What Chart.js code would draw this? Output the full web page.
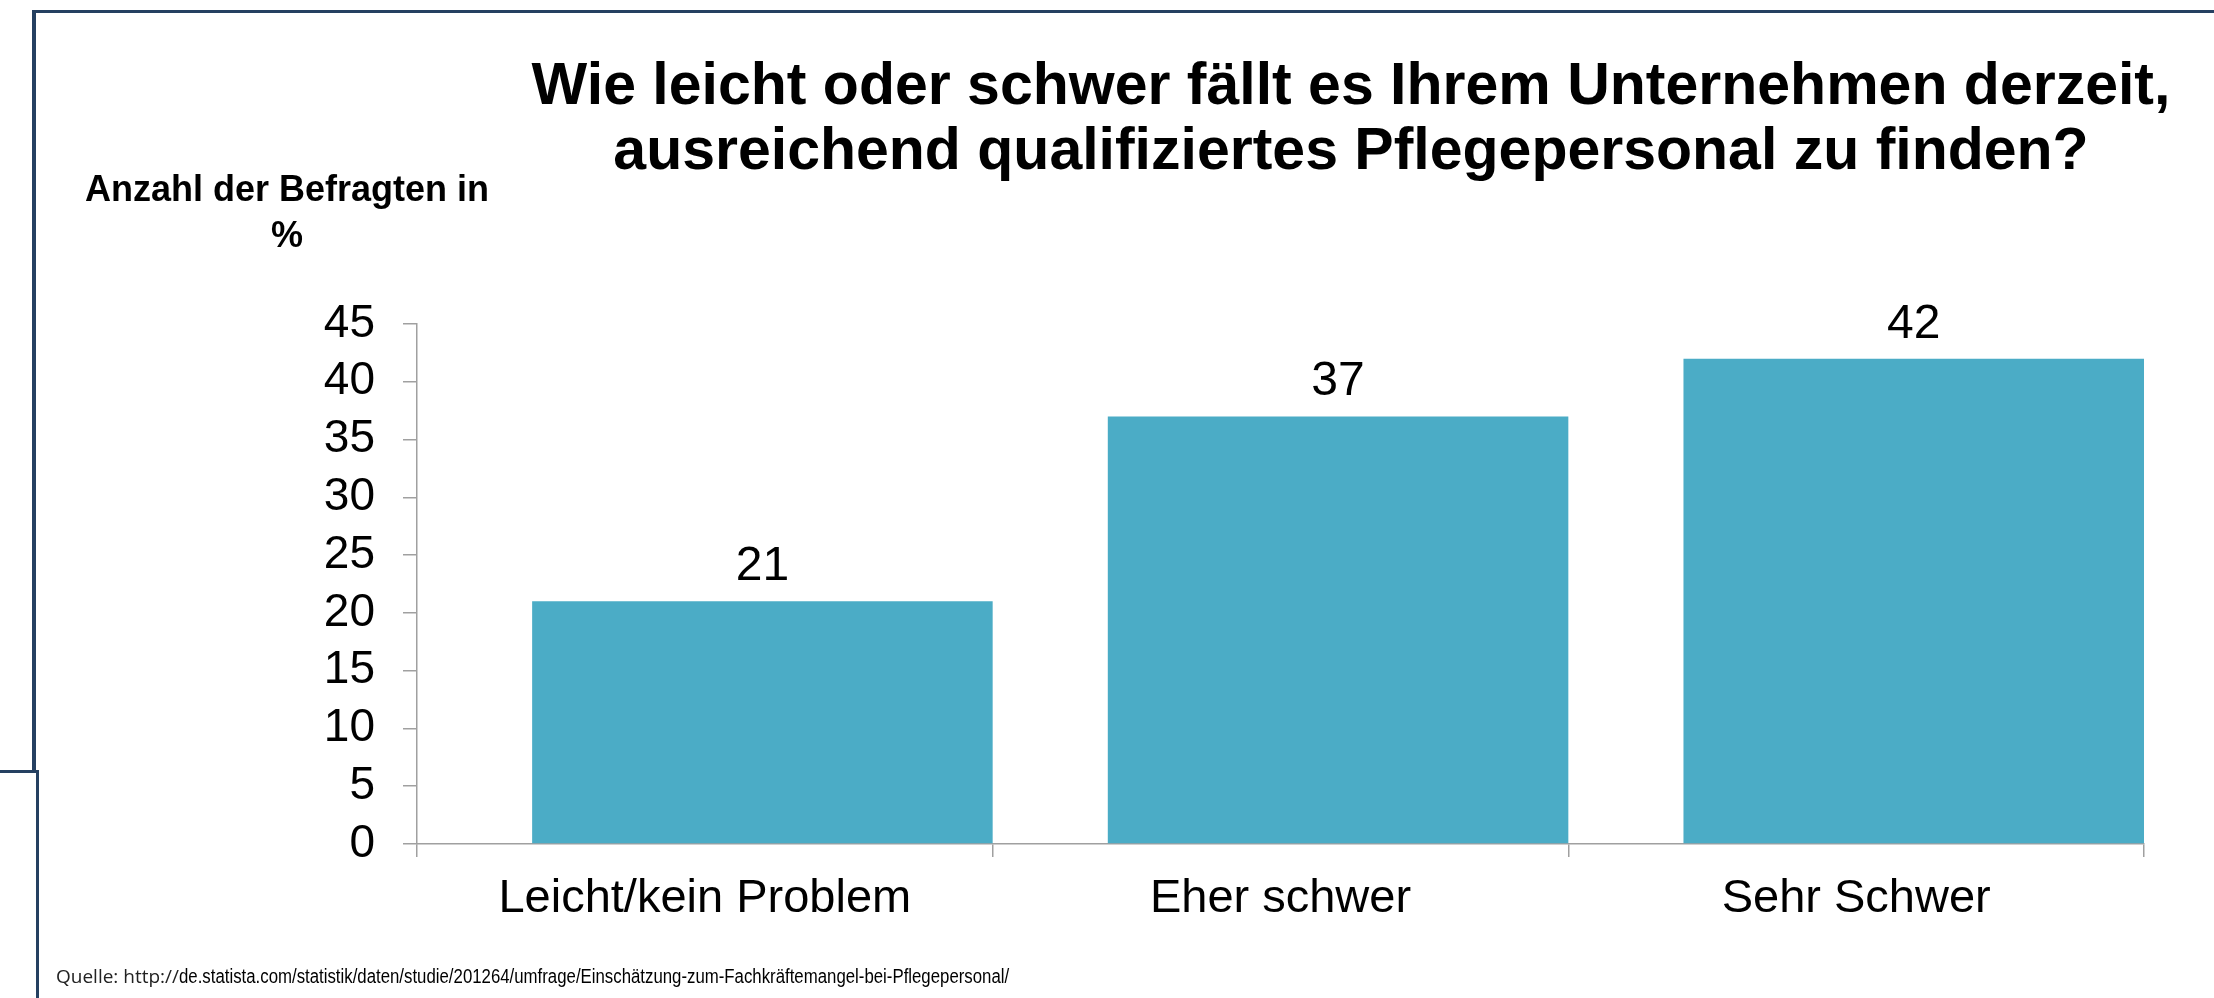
<!DOCTYPE html>
<html>
<head>
<meta charset="utf-8">
<script src="https://cdn.jsdelivr.net/npm/chart.js@4.4.0/dist/chart.umd.min.js"></script>
<style>
  html, body { margin: 0; padding: 0; background: #ffffff; }
  #wrap { position: relative; width: 2214px; height: 998px; overflow: hidden; background: #ffffff; }
  #chart { position: absolute; left: 0; top: 0; }
  .ln { position: absolute; background: #254061; }
  #title { position: absolute; left: 1351px; top: 52px; transform: translateX(-50%); white-space: nowrap;
           text-align: center; font: bold 59px/65px "Liberation Sans", Arial, sans-serif; color: #000; }
  #ycap { position: absolute; left: 287px; top: 166px; transform: translateX(-50%); white-space: nowrap;
          text-align: center; font: bold 36px/45.5px "Liberation Sans", Arial, sans-serif; color: #000; }
  #src { position: absolute; left: 56px; top: 963px; white-space: nowrap;
         font: 20px/24px "Liberation Sans", Arial, sans-serif; color: #000; }
  #src .q { font: 19px "Open Sans", "Noto Sans", sans-serif; color: #222; }
  #src .u { display: inline-block; transform: scaleX(0.84); transform-origin: 0 50%; }
</style>
</head>
<body>
<div id="wrap">
  <canvas id="chart" width="2214" height="998"></canvas>
  <div class="ln" style="left:32px;top:10px;width:2182px;height:3px;"></div>
  <div class="ln" style="left:32px;top:10px;width:4px;height:763px;"></div>
  <div class="ln" style="left:0px;top:770px;width:39px;height:3px;"></div>
  <div class="ln" style="left:36px;top:770px;width:3px;height:228px;"></div>
  <div id="title">Wie leicht oder schwer fällt es Ihrem Unternehmen derzeit,<br>ausreichend qualifiziertes Pflegepersonal zu finden?</div>
  <div id="ycap">Anzahl der Befragten in<br>%</div>
  <div id="src"><span class="q">Quelle: http://</span><span class="u">de.statista.com/statistik/daten/studie/201264/umfrage/Einschätzung-zum-Fachkräftemangel-bei-Pflegepersonal/</span></div>
</div>
<script>
// ---- data ----
const categories = ['Leicht/kein Problem', 'Eher schwer', 'Sehr Schwer'];
const values = [21, 37, 42];
const yTickValues = [0, 5, 10, 15, 20, 25, 30, 35, 40, 45];

// ---- styles ----
const FONT = '"Liberation Sans", Arial, sans-serif';
const BAR_COLOR = '#4BACC6';
const AXIS_COLOR = '#a0a0a0';
const BAR_SHIFT = 0.1; // bars sit in the right part of each category

Chart.defaults.font.family = FONT;

const shiftBars = {
  id: 'shiftBars',
  afterDatasetsUpdate(chart) {
    const xs = chart.scales.x;
    const step = xs.getPixelForValue(1) - xs.getPixelForValue(0);
    chart.getDatasetMeta(0).data.forEach(bar => { bar.x += step * BAR_SHIFT; });
  }
};

const valueLabels = {
  id: 'valueLabels',
  afterDatasetsDraw(chart) {
    const ctx = chart.ctx;
    const meta = chart.getDatasetMeta(0);
    ctx.save();
    ctx.font = '48px ' + FONT;
    ctx.fillStyle = '#000';
    ctx.textAlign = 'center';
    ctx.textBaseline = 'alphabetic';
    meta.data.forEach((bar, i) => {
      ctx.fillText(String(chart.data.datasets[0].data[i]), bar.x, bar.y - 21);
    });
    ctx.restore();
  }
};

new Chart(document.getElementById('chart'), {
  type: 'bar',
  data: {
    labels: categories,
    datasets: [{
      data: values,
      backgroundColor: BAR_COLOR,
      borderWidth: 0,
      barPercentage: 0.8,
      categoryPercentage: 1.0
    }]
  },
  options: {
    responsive: false,
    animation: false,
    devicePixelRatio: 1,
    layout: { padding: { left: 267, right: 70, top: 324, bottom: 34 } },
    plugins: { legend: { display: false }, tooltip: { enabled: false }, title: { display: false } },
    scales: {
      x: {
        type: 'category',
        offset: true,
        grid: { offset: true, drawOnChartArea: false, drawTicks: true, tickLength: 13, color: AXIS_COLOR, lineWidth: 1.5 },
        border: { display: true, color: AXIS_COLOR, width: 1.5 },
        ticks: { font: { family: FONT, size: 47 }, color: '#000', padding: 14, maxRotation: 0, autoSkip: false },
        afterFit(s) { s.height = 120; }
      },
      y: {
        min: 0,
        max: 45,
        afterBuildTicks(s) { s.ticks = yTickValues.map(v => ({ value: v })); },
        grid: { drawOnChartArea: false, drawTicks: true, tickLength: 14, color: AXIS_COLOR, lineWidth: 1.5 },
        border: { display: true, color: AXIS_COLOR, width: 1.5 },
        ticks: { font: { family: FONT, size: 46 }, color: '#000', padding: 28, autoSkip: false },
        afterFit(s) { s.width = 150; }
      }
    }
  },
  plugins: [shiftBars, valueLabels]
});
</script>
</body>
</html>
